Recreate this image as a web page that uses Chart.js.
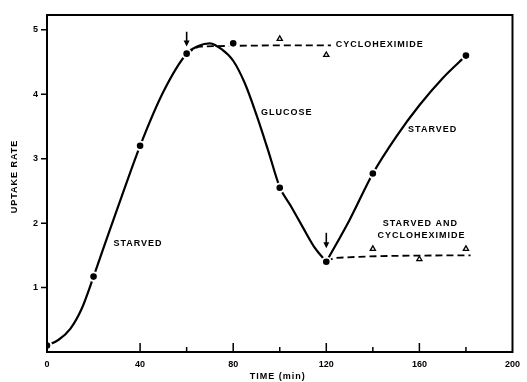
<!DOCTYPE html>
<html><head><meta charset="utf-8">
<script src="https://cdn.jsdelivr.net/npm/chart.js@4.4.1/dist/chart.umd.min.js"></script>
<style>html,body{margin:0;padding:0;background:#fff}#wrap{width:527px;height:382px;position:relative}</style>
</head><body><div id="wrap"><canvas id="c" width="527" height="382"></canvas></div>
<script>
// Measured points (filled circles), time in min, uptake rate
const pointTimes  = [0, 20, 40, 60, 80, 100, 120, 140, 180];
const pointValues = [0.1, 1.17, 3.2, 4.63, 4.79, 2.55, 1.4, 2.77, 4.6];
// Solid curve (starved -> glucose)
const curveTimesA  = [0, 5, 10, 15, 20, 25, 30, 40, 50, 60, 65, 70, 75, 80, 85, 90, 95, 100, 105, 110, 115, 120];
const curveValuesA = [0.1, 0.19, 0.36, 0.68, 1.17, 1.69, 2.2, 3.2, 4.04, 4.63, 4.75, 4.79, 4.7, 4.52, 4.17, 3.68, 3.13, 2.56, 2.25, 1.93, 1.62, 1.4];
// Solid curve (starved again)
const curveTimesB  = [120, 130, 140, 150, 160, 170, 180];
const curveValuesB = [1.4, 2.05, 2.77, 3.34, 3.83, 4.25, 4.6];
// Cycloheximide (open triangles) and its dashed line
const cycloTimes  = [100, 120];
const cycloValues = [4.86, 4.61];
const cycloLineTimes  = [60, 66, 122];
const cycloLineValues = [4.63, 4.74, 4.76];
// Starved and cycloheximide (open triangles) and its dashed line
const starvCycloTimes  = [140, 160, 180];
const starvCycloValues = [1.6, 1.44, 1.6];
const starvCycloLineTimes  = [120, 124, 182];
const starvCycloLineValues = [1.4, 1.46, 1.5];
// Axis ticks
const xTickValues = [0, 40, 80, 120, 160, 200];
const xMinorTicks = [60, 100, 140, 180];
const yTickValues = [1, 2, 3, 4, 5];
// Arrows marking additions
const arrowTimes = [60, 120];
const arrowFrom  = [4.97, 1.85];
const arrowTo    = [4.74, 1.61];
// Curve labels
const labelTexts  = ['STARVED', 'GLUCOSE', 'STARVED', 'CYCLOHEXIMIDE', 'STARVED AND', 'CYCLOHEXIMIDE'];
const labelTimes  = [39.1, 103, 165.7, 143, 160.4, 160.9];
const labelValues = [1.69, 3.71, 3.45, 4.77, 1.99, 1.81];

const xy = (xs, ys) => xs.map((x, i) => ({x, y: ys[i]}));
const FONT = '"Liberation Sans", Arial, sans-serif';

const overlay = {
  id: 'overlay',
  afterDraw(chart) {
    const {ctx, chartArea: a, scales: {x, y}} = chart;
    ctx.save();
    ctx.strokeStyle = '#000'; ctx.fillStyle = '#000';
    ctx.lineWidth = 2;
    ctx.strokeRect(a.left, a.top, a.right - a.left, a.bottom - a.top);
    ctx.lineWidth = 1.5;
    ctx.beginPath();
    yTickValues.forEach(v => { const py = y.getPixelForValue(v); ctx.moveTo(a.left - 6, py); ctx.lineTo(a.left, py); });
    xTickValues.slice(1, -1).forEach(v => { const px = x.getPixelForValue(v); ctx.moveTo(px, a.bottom); ctx.lineTo(px, a.bottom - 9); });
    xMinorTicks.forEach(v => { const px = x.getPixelForValue(v); ctx.moveTo(px, a.bottom); ctx.lineTo(px, a.bottom - 5); });
    ctx.stroke();
    // arrows
    arrowTimes.forEach((t, i) => {
      const px = x.getPixelForValue(t), y0 = y.getPixelForValue(arrowFrom[i]), y1 = y.getPixelForValue(arrowTo[i]);
      ctx.lineWidth = 1.6;
      ctx.beginPath(); ctx.moveTo(px, y0); ctx.lineTo(px, y1 - 3); ctx.stroke();
      ctx.beginPath(); ctx.moveTo(px - 3, y1 - 6); ctx.lineTo(px, y1); ctx.lineTo(px + 3, y1 - 6); ctx.closePath(); ctx.fill();
    });
    // labels
    ctx.font = 'bold 9px ' + FONT;
    ctx.letterSpacing = '1px';
    ctx.textAlign = 'center'; ctx.textBaseline = 'middle';
    labelTexts.forEach((s, i) => ctx.fillText(s, x.getPixelForValue(labelTimes[i]), y.getPixelForValue(labelValues[i])));
    // axis titles
    ctx.fillText('TIME (min)', (a.left + a.right) / 2 - 2, 377);
    ctx.translate(15, (a.top + a.bottom) / 2 - 7);
    ctx.rotate(-Math.PI / 2);
    ctx.fillText('UPTAKE RATE', 0, 0);
    ctx.restore();
  }
};

new Chart(document.getElementById('c'), {
  type: 'line',
  data: {
    datasets: [
      { data: xy(pointTimes, pointValues), showLine: false, pointRadius: 4.3, pointBackgroundColor: '#000', pointBorderColor: '#fff', pointBorderWidth: 2 },
      { data: xy(cycloTimes, cycloValues), showLine: false, pointStyle: 'triangle', pointRadius: 3, pointBackgroundColor: '#fff', pointBorderColor: '#000', pointBorderWidth: 1.3 },
      { data: xy(starvCycloTimes, starvCycloValues), showLine: false, pointStyle: 'triangle', pointRadius: 3, pointBackgroundColor: '#fff', pointBorderColor: '#000', pointBorderWidth: 1.3 },
      { data: xy(curveTimesA, curveValuesA), borderColor: '#000', borderWidth: 2.2, pointRadius: 0, cubicInterpolationMode: 'monotone' },
      { data: xy(curveTimesB, curveValuesB), borderColor: '#000', borderWidth: 2.2, pointRadius: 0, cubicInterpolationMode: 'monotone' },
      { data: xy(cycloLineTimes, cycloLineValues), borderColor: '#000', borderWidth: 1.8, borderDash: [7, 4], pointRadius: 0, cubicInterpolationMode: 'monotone' },
      { data: xy(starvCycloLineTimes, starvCycloLineValues), borderColor: '#000', borderWidth: 1.8, borderDash: [7, 4], pointRadius: 0, cubicInterpolationMode: 'monotone' }
    ]
  },
  options: {
    responsive: false, animation: false,
    layout: { padding: { top: 15, right: 9, left: 0, bottom: 0 } },
    plugins: { legend: { display: false }, tooltip: { enabled: false } },
    scales: {
      x: {
        type: 'linear', min: 0, max: 200,
        afterBuildTicks: s => { s.ticks = xTickValues.map(v => ({value: v})); },
        ticks: { color: '#000', font: { family: FONT, size: 9, weight: 'bold' }, padding: 7, maxRotation: 0, autoSkip: false },
        grid: { display: false, drawTicks: false }, border: { display: false },
        afterFit: s => { s.height = 30; }
      },
      y: {
        min: 0, max: 5.23,
        afterBuildTicks: s => { s.ticks = yTickValues.map(v => ({value: v})); },
        ticks: { color: '#000', font: { family: FONT, size: 9, weight: 'bold' }, padding: 9 },
        grid: { display: false, drawTicks: false }, border: { display: false },
        afterFit: s => { s.width = 47; }
      }
    }
  },
  plugins: [overlay]
});
</script></body></html>
